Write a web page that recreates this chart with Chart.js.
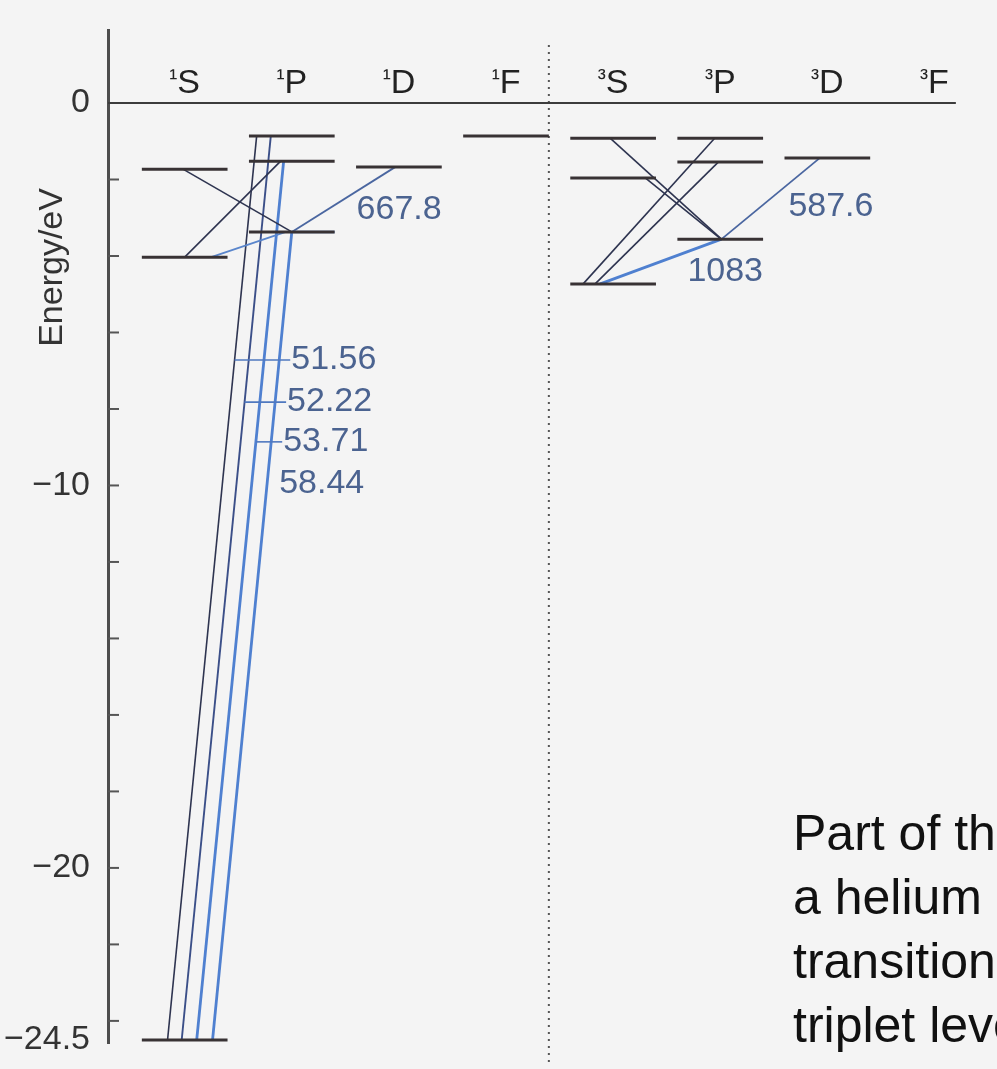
<!DOCTYPE html>
<html lang="en">
<head>
<meta charset="UTF-8">
<title>Grotrian diagram of helium</title>
<script src="https://cdn.jsdelivr.net/npm/chart.js"></script>
<style>
    html, body { margin: 0; padding: 0; }
    body {
        width: 997px;
        height: 1069px;
        overflow: hidden;
        position: relative;
        background: #f4f4f4;
        font-family: "Liberation Sans", Arial, sans-serif;
    }
    #grotrian { position: absolute; left: 0; top: 0; }
    .caption {
        position: absolute;
        left: 793px;
        top: 801px;
        font-size: 50px;
        line-height: 64px;
        color: #111;
        white-space: nowrap;
    }
</style>
</head>
<body>
<canvas id="grotrian" width="997" height="1069"></canvas>
<div class="caption">Part of the Grotrian diagram of<br>a helium atom. Note that there are no<br>transitions between the singlet and<br>triplet levels.</div>

<script>
// term columns (singlets left of the dotted line, triplets right)
const termLabels = ['¹S', '¹P', '¹D', '¹F', '³S', '³P', '³D', '³F'];

// energy levels in eV, column index of each
const levelColumn = [0, 0, 0, 1, 1, 1, 2, 3, 4, 4, 4, 5, 5, 5, 6];
const levelEnergy = [-24.5, -4.03, -1.73, -3.37, -1.52, -0.86, -1.67, -0.86,
                     -4.73, -1.96, -0.92, -3.56, -1.54, -0.92, -1.44];

// transitions: [column, energy, place on the level from -1 (left end) to 1 (right end)]
const transitionLower = [
    [1, -3.37, 0], [0, -4.03, 0], [0, -4.03, 0.62], [1, -3.37, 0],
    [0, -24.5, -0.40], [0, -24.5, -0.07], [0, -24.5, 0.28], [0, -24.5, 0.65],
    [5, -3.56, 0.03], [5, -3.56, 0.02], [4, -4.73, -0.70], [4, -4.73, -0.42],
    [4, -4.73, -0.30], [5, -3.56, 0.03]
];
const transitionUpper = [
    [0, -1.73, -0.04], [1, -1.52, -0.26], [1, -3.37, -0.14], [2, -1.67, -0.08],
    [1, -0.86, -0.82], [1, -0.86, -0.49], [1, -1.52, -0.19], [1, -3.37, 0],
    [4, -0.92, -0.07], [4, -1.96, 0.75], [5, -0.92, -0.13], [5, -1.54, -0.04],
    [5, -3.56, 0.03], [6, -1.44, -0.18]
];

// wavelength labels (nm), the transition each names, and the energy they sit at
const waveLabels = ['667.8', '51.56', '52.22', '53.71', '58.44', '1083', '587.6'];
const waveLabelLine = [3, 4, 5, 6, 7, 12, 13];
const waveLabelEnergy = [-2.80, -6.72, -7.82, -8.86, -9.94, -4.42, -2.72];

// axis
const tickValues = [0, -10, -20, -24.5];
const minorTicks = [-2, -4, -6, -8, -10, -12, -14, -16, -18, -20, -22, -24];

// ---- drawing setup ----
const FONT = "'Liberation Sans', Arial, sans-serif";
const halfWidth = 0.4;          // half length of a level bar, in column units
const xMin = -0.716, xMax = 7.584;
const dividerX = 3.4;           // dotted singlet / triplet separator
const highlightedLevel = 3;     // 2¹P bar partly drawn in blue

const palette = {
    dark:     { color: '#2e3450', width: 1.6 },
    navy:     { color: '#3b4f88', width: 1.9 },
    blue:     { color: '#4f80d0', width: 2.8 },
    blueThin: { color: '#5a86cc', width: 1.8 },
    slate:    { color: '#4a66a0', width: 1.8 }
};
const transitionStyle = ['dark', 'dark', 'blueThin', 'slate', 'dark', 'navy', 'blue', 'blue',
                         'dark', 'dark', 'dark', 'dark', 'blue', 'slate'];
const waveLabelAnchor = [3, 7, 7, 7, 7, 12, 13];
const waveLabelGap = [30, 12, 12, 12, 12, 55, 28];

const point = ([col, e, f]) => ({ x: col + f * halfWidth, y: e });

const levelPoints = [];
levelColumn.forEach((col, i) => {
    levelPoints.push({ x: col - halfWidth, y: levelEnergy[i] },
                     { x: col + halfWidth, y: levelEnergy[i] },
                     { x: null, y: null });
});

const datasets = [
    {
        label: 'levels', data: levelPoints, borderColor: '#383234',
        borderWidth: 3, order: 0
    },
    {
        label: '2¹P highlight', order: 0,
        data: [
            { x: levelColumn[highlightedLevel], y: levelEnergy[highlightedLevel] },
            { x: levelColumn[highlightedLevel] + halfWidth, y: levelEnergy[highlightedLevel] }
        ],
        borderColor: '#6a93d4', borderWidth: 2.5
    },
    {
        label: 'zero', order: 3,
        data: [{ x: xMin, y: 0 }, { x: termLabels.length - 1 + 0.2, y: 0 }],
        borderColor: '#3c3c3c', borderWidth: 2
    }
];
transitionLower.forEach((lo, i) => {
    const st = palette[transitionStyle[i]];
    datasets.push({
        label: 'transition ' + i,
        data: [point(lo), point(transitionUpper[i])],
        borderColor: st.color,
        borderWidth: st.width,
        order: 1
    });
});

// pixel x of a transition line at a given energy
function lineXAt(chart, idx, energy) {
    const xs = chart.scales.x;
    const a = point(transitionLower[idx]), b = point(transitionUpper[idx]);
    const t = (energy - a.y) / (b.y - a.y);
    return xs.getPixelForValue(a.x + t * (b.x - a.x));
}

const diagramPlugin = {
    id: 'diagram',
    beforeDatasetsDraw(chart) {
        const { ctx, chartArea, scales: { x, y } } = chart;
        ctx.save();
        // dotted separator
        ctx.strokeStyle = '#555';
        ctx.lineWidth = 2;
        ctx.setLineDash([2, 5]);
        const dx = x.getPixelForValue(dividerX);
        ctx.beginPath();
        ctx.moveTo(dx, chartArea.top + 15);
        ctx.lineTo(dx, chart.height - 4);
        ctx.stroke();
        ctx.setLineDash([]);
        // inward tick marks
        ctx.strokeStyle = '#555';
        minorTicks.forEach(v => {
            const py = y.getPixelForValue(v);
            ctx.beginPath();
            ctx.moveTo(chartArea.left, py);
            ctx.lineTo(chartArea.left + 11, py);
            ctx.stroke();
        });
        ctx.restore();
    },
    afterDatasetsDraw(chart) {
        const { ctx, scales: { x, y } } = chart;
        ctx.save();
        ctx.font = '34px ' + FONT;
        ctx.textBaseline = 'middle';

        // wavelength labels with their pointer ticks
        waveLabels.forEach((txt, i) => {
            const e = waveLabelEnergy[i];
            const py = y.getPixelForValue(e);
            const left = lineXAt(chart, waveLabelAnchor[i], e) + waveLabelGap[i];
            if (waveLabelAnchor[i] !== waveLabelLine[i]) {
                ctx.strokeStyle = '#4f78bf';
                ctx.lineWidth = 1.6;
                ctx.beginPath();
                ctx.moveTo(lineXAt(chart, waveLabelLine[i], e), py);
                ctx.lineTo(left - 1, py);
                ctx.stroke();
            }
            ctx.fillStyle = '#4b6390';
            ctx.textAlign = 'left';
            ctx.fillText(txt, left, py);
        });

        // term headings: small raised multiplicity, then the letter
        ctx.fillStyle = '#222';
        ctx.textBaseline = 'alphabetic';
        const baseY = y.getPixelForValue(0) - 10;
        termLabels.forEach((t, i) => {
            const cx = x.getPixelForValue(i);
            const sup = t.charAt(0), letter = t.slice(1);
            ctx.font = '34px ' + FONT;
            const lw = ctx.measureText(letter).width;
            ctx.font = '24px ' + FONT;
            const sw = ctx.measureText(sup).width;
            const start = cx - (lw + sw) / 2;
            ctx.textAlign = 'left';
            ctx.fillText(sup, start, baseY - 7);
            ctx.font = '34px ' + FONT;
            ctx.fillText(letter, start + sw, baseY);
        });

        // axis title
        ctx.font = '34px ' + FONT;
        ctx.fillStyle = '#333';
        ctx.textAlign = 'center';
        ctx.textBaseline = 'middle';
        ctx.translate(53, y.getPixelForValue(-4.3));
        ctx.rotate(-Math.PI / 2);
        ctx.fillText('Energy/eV', 0, 0);
        ctx.restore();
    }
};

new Chart(document.getElementById('grotrian'), {
    type: 'line',
    data: { datasets: datasets },
    options: {
        responsive: false,
        animation: false,
        layout: { padding: { top: 30, bottom: 26, left: 0, right: 0 } },
        elements: {
            point: { radius: 0, hoverRadius: 0 },
            line: { tension: 0, borderCapStyle: 'butt', fill: false }
        },
        plugins: { legend: { display: false }, tooltip: { enabled: false } },
        scales: {
            x: { type: 'linear', min: xMin, max: xMax, display: false },
            y: {
                type: 'linear',
                min: -24.578,
                max: 1.909,
                afterFit: scale => {
                    scale.width = 108;
                    scale.paddingTop = 0;
                    scale.paddingBottom = 0;
                },
                afterBuildTicks: scale => { scale.ticks = tickValues.map(v => ({ value: v })); },
                grid: { drawOnChartArea: false, drawTicks: false },
                border: { display: true, color: '#4d4d4d', width: 3 },
                ticks: {
                    padding: 18,
                    color: '#333',
                    font: { family: FONT, size: 34 },
                    callback: v => v === 0 ? '0' : '\u2212' + Math.abs(v)
                }
            }
        }
    },
    plugins: [diagramPlugin]
});
</script>
</body>
</html>
